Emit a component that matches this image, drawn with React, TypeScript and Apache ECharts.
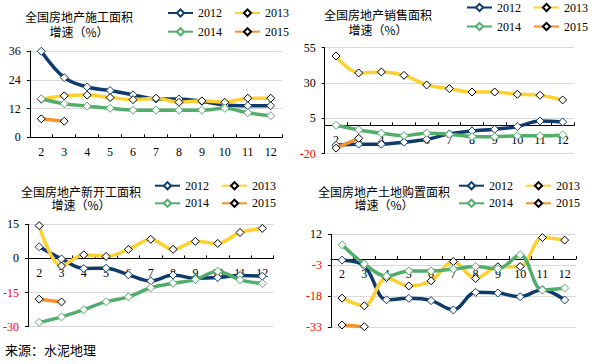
import React, { useEffect, useRef } from "react";
import * as echarts from "echarts";

const months = ["2", "3", "4", "5", "6", "7", "8", "9", "10", "11", "12"];
const years = ["2012", "2013", "2014", "2015"];

// 全国房地产施工面积增速
const construction2012 = [35.9, 24.9, 21.0, 19.5, 17.7, 16.0, 16.0, 15.0, 13.5, 13.2, 13.2];
const construction2013 = [15.9, 17.3, 17.6, 16.6, 15.7, 16.3, 14.6, 15.2, 14.6, 16.3, 16.3];
const construction2014 = [16.1, 14.0, 13.0, 12.1, 11.3, 11.3, 11.3, 11.3, 12.1, 10.2, 9.0];
const construction2015 = [7.7, 6.7];

// 全国房地产销售面积增速
const sales2012 = [-14.1, -13.4, -13.4, -12.0, -9.9, -6.1, -4.0, -2.8, -0.9, 3.1, 2.4];
const sales2013 = [49.1, 37.1, 37.8, 35.4, 28.6, 26.0, 23.6, 23.6, 22.0, 21.3, 18.0];
const sales2014 = [0.0, -3.3, -5.6, -7.3, -5.6, -6.3, -8.0, -8.2, -7.5, -7.5, -6.8];
const sales2015 = [-16.2, -9.2];

// 全国房地产新开工面积增速
const starts2012 = [5.1, -0.2, -4.4, -4.3, -7.2, -9.9, -7.3, -8.7, -8.4, -7.5, -7.8];
const starts2013 = [14.4, -3.3, 1.6, 0.9, 4.0, 8.4, 4.0, 7.5, 6.6, 11.4, 13.2];
const starts2014 = [-28.1, -25.7, -22.5, -19.0, -16.9, -12.9, -10.9, -9.3, -5.6, -9.4, -11.0];
const starts2015 = [-17.9, -19.1];

// 全国房地产土地购置面积增速
const land2012 = [-0.5, -3.2, -19.7, -19.0, -20.1, -24.6, -16.1, -16.4, -18.2, -14.8, -19.8];
const land2013 = [-18.9, -22.6, -9.0, -13.0, -10.5, -1.2, -9.4, -3.7, -3.6, 10.4, 9.2];
const land2014 = [6.9, -2.4, -8.2, -5.7, -5.7, -4.8, -3.6, -4.7, 2.1, -15.0, -14.0];
const land2015 = [-31.9, -32.7];

const titles1 = ["全国房地产施工面积", "全国房地产销售面积", "全国房地产新开工面积", "全国房地产土地购置面积"];
const title2 = "增速（%）";
const source = "来源：水泥地理";

const yMins = [0, -20, -30, -33];
const yMaxs = [36, 55, 15, 12];
const yIntervals = [12, 25, 15, 15];

const panelData = [
  [construction2012, construction2013, construction2014, construction2015],
  [sales2012, sales2013, sales2014, sales2015],
  [starts2012, starts2013, starts2014, starts2015],
  [land2012, land2013, land2014, land2015],
];

const lineColors = ["#0f3b6c", "#fdd12e", "#53ae6c", "#f5912c"];
const markerBorders = ["#0f3b6c", "#000000", "#53ae6c", "#000000"];

const grids = [
  { left: 29.8, top: 51, width: 252.4, height: 86.3 },
  { left: 324.7, top: 47.7, width: 249.3, height: 105.8 },
  { left: 27.8, top: 224.3, width: 245.7, height: 102.4 },
  { left: 330.9, top: 234.3, width: 244.9, height: 93 },
];

const legendLefts = [167, 466, 154, 458];
const legendTops = [
  [7, 25.7],
  [1.5, 20.5],
  [179.7, 197.3],
  [179.7, 197.3],
];

const titlePos = [
  { x: 79, y: 24.2, lh: 15 },
  { x: 378, y: 22.2, lh: 15.5 },
  { x: 81, y: 198, lh: 12.8 },
  { x: 384, y: 198, lh: 12.8 },
];

const serif = "Liberation Serif";
const cjk = "Noto Sans CJK SC";

export default function App() {
  const ref = useRef<HTMLDivElement>(null);

  useEffect(() => {
    if (!ref.current) return;
    const chart = echarts.init(ref.current, undefined, { renderer: "svg" });

    const xAxis = grids.map((g, i) => ({
      type: "category",
      gridIndex: i,
      data: months,
      boundaryGap: true,
      position: "bottom",
      // place the category axis at the value 0 of the panel's value axis
      offset: -((0 - yMins[i]) / (yMaxs[i] - yMins[i])) * g.height,
      axisLine: { show: true, onZero: false, lineStyle: { color: "#000", width: 1 } },
      axisTick: { show: true, inside: true, length: 3, lineStyle: { color: "#000" } },
      axisLabel: { margin: 9, fontFamily: serif, fontSize: 12, color: "#000" },
      splitLine: { show: false },
    }));

    const yAxis = grids.map((_, i) => ({
      type: "value",
      gridIndex: i,
      min: yMins[i],
      max: yMaxs[i],
      interval: yIntervals[i],
      axisLine: { show: true, lineStyle: { color: "#000", width: 1 } },
      axisTick: { show: true, length: 3, lineStyle: { color: "#000" } },
      splitLine: { show: true, lineStyle: { color: "#d9d9d9", width: 1 } },
      axisLabel: {
        margin: 9,
        fontFamily: serif,
        fontSize: 12,
        color: (v: any) => (Number(v) < 0 ? "#ff0000" : "#000"),
      },
    }));

    const series: any[] = [];
    panelData.forEach((arrs, p) => {
      arrs.forEach((data, k) => {
        series.push({
          type: "line",
          name: years[k],
          xAxisIndex: p,
          yAxisIndex: p,
          data,
          smooth: 0.35,
          symbol: "diamond",
          symbolSize: 8,
          showAllSymbol: true,
          lineStyle: { color: lineColors[k], width: 3.5 },
          itemStyle: { color: "#fff", borderColor: markerBorders[k], borderWidth: 1 },
          z: 2 + k,
        });
      });
    });

    const legend: any[] = [];
    for (let p = 0; p < 4; p++) {
      for (let r = 0; r < 2; r++) {
        legend.push({
          data: [years[r * 2], years[r * 2 + 1]],
          left: legendLefts[p],
          top: legendTops[p][r],
          orient: "horizontal",
          padding: 0,
          itemGap: 12,
          itemWidth: 25,
          itemHeight: 9,
          selectedMode: false,
          textStyle: { fontFamily: serif, fontSize: 12, color: "#000" },
        });
      }
    }

    const graphic: any[] = titlePos.map((t, i) => ({
      type: "text",
      x: t.x,
      y: t.y,
      style: {
        text: titles1[i] + "\n" + title2,
        fontFamily: cjk,
        fontSize: 12,
        lineHeight: t.lh,
        fill: "#000",
        align: "center",
        verticalAlign: "middle",
      },
    }));

    chart.setOption({
      animation: false,
      backgroundColor: "#fff",
      title: {
        text: source,
        left: 5,
        top: 343,
        padding: 0,
        textStyle: { fontFamily: cjk, fontSize: 13, fontWeight: "normal", color: "#000" },
      },
      grid: grids.map((g) => ({ ...g, containLabel: false })),
      xAxis,
      yAxis,
      legend,
      series,
      graphic,
    });

    return () => chart.dispose();
  }, []);

  return (
    <div
      ref={ref}
      style={{ position: "absolute", left: 0, top: 0, width: 592, height: 364, background: "#fff" }}
    />
  );
}
